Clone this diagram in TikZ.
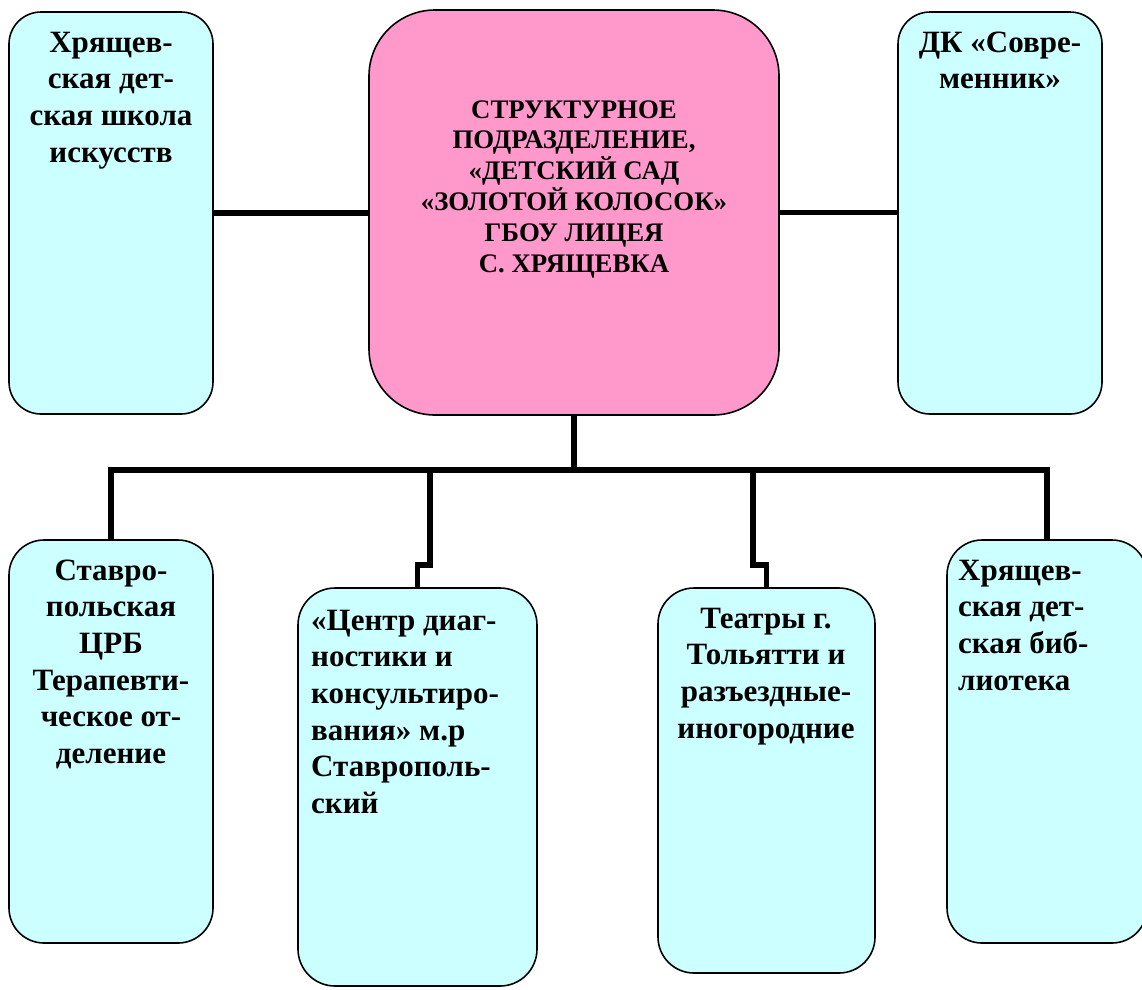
\documentclass[tikz,border=0pt]{standalone}
\usepackage{fontspec}
\setmainfont{Liberation Serif}[BoldFont={Liberation Serif Bold}]
\usetikzlibrary{calc}
\definecolor{boxcyan}{HTML}{CCFFFF}
\definecolor{boxpink}{HTML}{FF99CC}
\newcommand\sidefnt{\fontsize{31}{36.6}\selectfont\bfseries}
\newcommand\ctrfnt{\fontsize{26.8}{30.8}\selectfont\bfseries}
\tikzset{
  orgbox/.style={draw=black, line width=1.6pt, fill=boxcyan, inner sep=0pt, minimum width=#1},
  pinkbox/.style={draw=black, line width=1.6pt, fill=boxpink, inner sep=0pt},
  sidetxt/.style={inner sep=0pt, font=\sidefnt},
  ctrtxt/.style={inner sep=0pt, font=\ctrfnt, align=center},
  conn/.style={draw=black, line width=5.5pt}
}
\begin{document}
\begin{tikzpicture}[x=1pt,y=1pt]
\useasboundingbox[fill=white] (0,0) rectangle (1142,-989);
% boxes
\node[orgbox=204pt, minimum height=402pt, rounded corners=32pt] (tl) at (111,-213) {};
\node[pinkbox, minimum width=410pt, minimum height=405pt, rounded corners=66pt] (c) at (574,-212.5) {};
\node[orgbox=204pt, minimum height=402pt, rounded corners=32pt] (tr) at (1000,-213) {};
\node[orgbox=204pt, minimum height=403pt, rounded corners=35pt] (b1) at (111,-741.5) {};
\node[orgbox=239pt, minimum height=398pt, rounded corners=37pt] (b2) at (417.5,-787) {};
\node[orgbox=217pt, minimum height=385pt, rounded corners=36pt] (b3) at (766.5,-780.5) {};
\node[orgbox=200pt, minimum height=403pt, rounded corners=35pt] (b4) at (1047,-741.5) {};
% texts
\node[sidetxt, align=center, anchor=north] (ttl) at (111,-26.4) {\strut Хрящев-\\ская дет-\\ская школа\\искусств};
\node[sidetxt, align=center, anchor=north] (ttr) at (1000,-26.4) {\strut ДК «Совре-\\менник»};
\node[ctrtxt, anchor=north] (tc) at (574,-96.4) {\strut СТРУКТУРНОЕ\\ПОДРАЗДЕЛЕНИЕ,\\«ДЕТСКИЙ САД\\«ЗОЛОТОЙ КОЛОСОК»\\ГБОУ ЛИЦЕЯ\\С. ХРЯЩЕВКА};
\node[sidetxt, align=center, anchor=north] (tb1) at (111,-554.4) {\strut Ставро-\\польская\\ЦРБ\\Терапевти-\\ческое от-\\деление};
\node[sidetxt, align=left, anchor=north west] (tb2) at (311,-604.4) {\strut «Центр диаг-\\ностики и\\консультиро-\\вания» м.р\\Ставрополь-\\ский};
\node[sidetxt, align=center, anchor=north] (tb3) at (766,-602.4) {\strut Театры г.\\Тольятти и\\разъездные-\\иногородние};
\node[sidetxt, align=left, anchor=north west] (tb4) at (958,-554.4) {\strut Хрящев-\\ская дет-\\ская биб-\\лиотека};
% connectors
\coordinate (busy) at (0,-470);
\coordinate (jogy) at (0,-565);
\draw[conn] (tl.east) -- (tl.east -| c.west);
\draw[conn] (c.east) -- (c.east -| tr.west);
\draw[conn] (c.south) -- (c.south |- busy);
\draw[conn, line join=miter] (b1.north) -- (b1.north |- busy) -- (b4.north |- busy) -- (b4.north);
\draw[conn, line join=miter] (430,-470) -- (430,-565) -- (b2.north |- jogy) -- (b2.north);
\draw[conn, line join=miter] (753,-470) -- (753,-565) -- (b3.north |- jogy) -- (b3.north);
\end{tikzpicture}
\end{document}
